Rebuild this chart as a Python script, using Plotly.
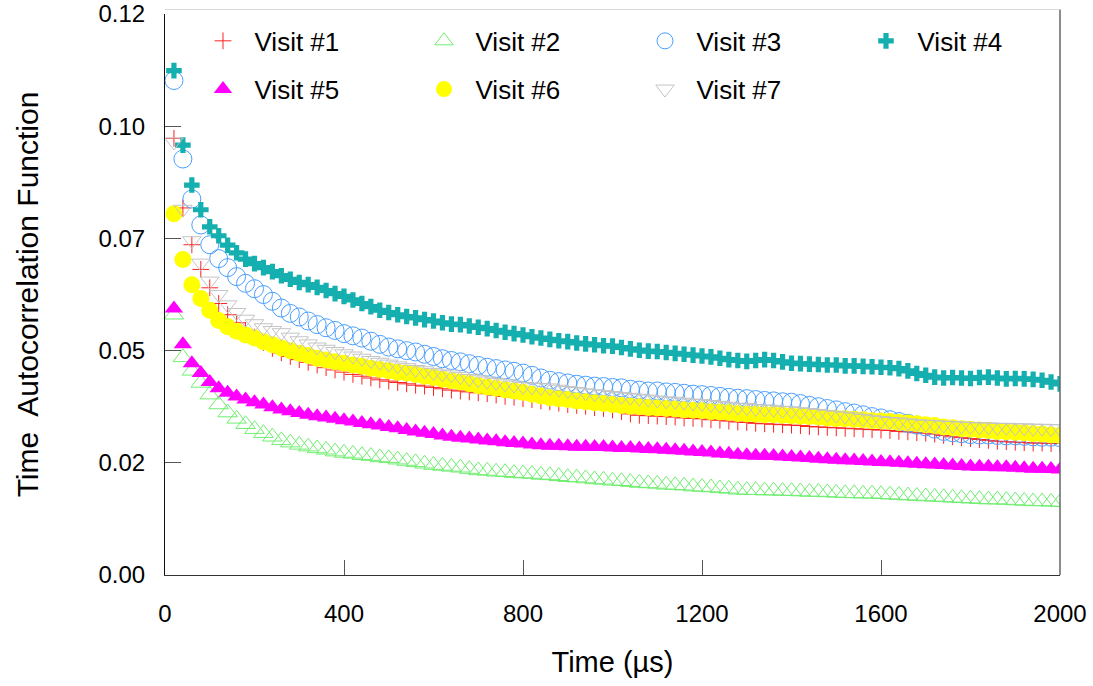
import plotly.graph_objects as go

# Time axis (µs): one sample every 20 µs
time_us = list(range(20, 2001, 20))

visit1 = [0.0973, 0.0818, 0.0736, 0.0681, 0.0640, 0.0605, 0.0580, 0.0562, 0.0545, 0.0530,
          0.0518, 0.0505, 0.0495, 0.0487, 0.0480, 0.0474, 0.0468, 0.0462, 0.0457, 0.0452,
          0.0447, 0.0443, 0.0439, 0.0435, 0.0432, 0.0429, 0.0426, 0.0423, 0.0421, 0.0418,
          0.0415, 0.0412, 0.0410, 0.0408, 0.0406, 0.0404, 0.0401, 0.0398, 0.0396, 0.0393,
          0.0391, 0.0388, 0.0386, 0.0383, 0.0380, 0.0378, 0.0376, 0.0373, 0.0371, 0.0368,
          0.0364, 0.0359, 0.0356, 0.0355, 0.0354, 0.0353, 0.0352, 0.0350, 0.0349, 0.0348,
          0.0346, 0.0345, 0.0343, 0.0341, 0.0340, 0.0338, 0.0337, 0.0336, 0.0335, 0.0334,
          0.0333, 0.0331, 0.0330, 0.0329, 0.0328, 0.0327, 0.0326, 0.0325, 0.0324, 0.0323,
          0.0322, 0.0320, 0.0319, 0.0317, 0.0316, 0.0314, 0.0311, 0.0308, 0.0306, 0.0304,
          0.0302, 0.0300, 0.0298, 0.0297, 0.0296, 0.0295, 0.0294, 0.0294, 0.0293, 0.0293]

visit2 = [0.0580, 0.0485, 0.0455, 0.0428, 0.0402, 0.0380, 0.0362, 0.0348, 0.0336, 0.0325,
          0.0316, 0.0308, 0.0300, 0.0295, 0.0290, 0.0286, 0.0282, 0.0279, 0.0275, 0.0272,
          0.0270, 0.0267, 0.0265, 0.0262, 0.0260, 0.0257, 0.0254, 0.0251, 0.0248, 0.0245,
          0.0243, 0.0241, 0.0239, 0.0236, 0.0233, 0.0232, 0.0230, 0.0229, 0.0227, 0.0226,
          0.0225, 0.0223, 0.0222, 0.0220, 0.0218, 0.0217, 0.0215, 0.0213, 0.0212, 0.0210,
          0.0209, 0.0207, 0.0205, 0.0204, 0.0203, 0.0201, 0.0200, 0.0199, 0.0197, 0.0196,
          0.0195, 0.0193, 0.0192, 0.0190, 0.0189, 0.0189, 0.0188, 0.0188, 0.0187, 0.0187,
          0.0186, 0.0185, 0.0185, 0.0184, 0.0183, 0.0182, 0.0182, 0.0181, 0.0181, 0.0180,
          0.0179, 0.0178, 0.0177, 0.0176, 0.0175, 0.0174, 0.0173, 0.0172, 0.0171, 0.0170,
          0.0169, 0.0168, 0.0168, 0.0167, 0.0166, 0.0165, 0.0164, 0.0164, 0.0163, 0.0162]

visit3 = [0.1102, 0.0927, 0.0838, 0.0780, 0.0736, 0.0705, 0.0685, 0.0665, 0.0650, 0.0638,
          0.0625, 0.0610, 0.0595, 0.0583, 0.0575, 0.0566, 0.0558, 0.0551, 0.0545, 0.0538,
          0.0533, 0.0528, 0.0521, 0.0514, 0.0508, 0.0504, 0.0500, 0.0497, 0.0492, 0.0487,
          0.0482, 0.0478, 0.0475, 0.0471, 0.0467, 0.0463, 0.0460, 0.0457, 0.0454, 0.0450,
          0.0445, 0.0439, 0.0434, 0.0431, 0.0428, 0.0425, 0.0423, 0.0421, 0.0420, 0.0418,
          0.0417, 0.0414, 0.0412, 0.0410, 0.0410, 0.0408, 0.0407, 0.0405, 0.0403, 0.0402,
          0.0400, 0.0398, 0.0396, 0.0394, 0.0393, 0.0391, 0.0389, 0.0388, 0.0386, 0.0385,
          0.0382, 0.0378, 0.0375, 0.0371, 0.0368, 0.0364, 0.0361, 0.0357, 0.0353, 0.0350,
          0.0346, 0.0342, 0.0338, 0.0334, 0.0330, 0.0325, 0.0320, 0.0317, 0.0315, 0.0313,
          0.0312, 0.0312, 0.0311, 0.0310, 0.0310, 0.0309, 0.0308, 0.0307, 0.0307, 0.0306]

visit4 = [0.1124, 0.0958, 0.0869, 0.0814, 0.0776, 0.0756, 0.0735, 0.0718, 0.0704, 0.0694,
          0.0685, 0.0676, 0.0667, 0.0659, 0.0652, 0.0647, 0.0641, 0.0634, 0.0627, 0.0621,
          0.0613, 0.0605, 0.0598, 0.0590, 0.0585, 0.0580, 0.0576, 0.0573, 0.0569, 0.0566,
          0.0562, 0.0559, 0.0558, 0.0555, 0.0552, 0.0549, 0.0545, 0.0541, 0.0538, 0.0535,
          0.0531, 0.0528, 0.0525, 0.0522, 0.0520, 0.0517, 0.0515, 0.0513, 0.0511, 0.0510,
          0.0507, 0.0504, 0.0501, 0.0499, 0.0498, 0.0496, 0.0494, 0.0492, 0.0490, 0.0488,
          0.0486, 0.0483, 0.0480, 0.0478, 0.0476, 0.0478, 0.0480, 0.0478, 0.0475, 0.0472,
          0.0471, 0.0470, 0.0469, 0.0468, 0.0468, 0.0466, 0.0466, 0.0465, 0.0464, 0.0463,
          0.0462, 0.0460, 0.0455, 0.0449, 0.0445, 0.0441, 0.0439, 0.0440, 0.0439, 0.0438,
          0.0440, 0.0441, 0.0439, 0.0437, 0.0438, 0.0437, 0.0436, 0.0434, 0.0430, 0.0426]

visit5 = [0.0594, 0.0514, 0.0472, 0.0450, 0.0430, 0.0416, 0.0406, 0.0398, 0.0391, 0.0385,
          0.0380, 0.0374, 0.0369, 0.0365, 0.0361, 0.0357, 0.0354, 0.0351, 0.0348, 0.0345,
          0.0342, 0.0339, 0.0336, 0.0333, 0.0330, 0.0327, 0.0323, 0.0320, 0.0317, 0.0314,
          0.0311, 0.0308, 0.0306, 0.0304, 0.0302, 0.0300, 0.0298, 0.0296, 0.0294, 0.0293,
          0.0291, 0.0289, 0.0288, 0.0288, 0.0287, 0.0286, 0.0286, 0.0285, 0.0285, 0.0284,
          0.0283, 0.0283, 0.0282, 0.0281, 0.0280, 0.0279, 0.0278, 0.0277, 0.0275, 0.0274,
          0.0273, 0.0271, 0.0270, 0.0268, 0.0267, 0.0266, 0.0266, 0.0265, 0.0264, 0.0263,
          0.0262, 0.0261, 0.0259, 0.0258, 0.0257, 0.0256, 0.0255, 0.0254, 0.0253, 0.0252,
          0.0251, 0.0250, 0.0249, 0.0248, 0.0247, 0.0246, 0.0245, 0.0244, 0.0243, 0.0242,
          0.0241, 0.0241, 0.0240, 0.0240, 0.0239, 0.0238, 0.0237, 0.0237, 0.0236, 0.0235]

visit6 = [0.0805, 0.0703, 0.0647, 0.0616, 0.0590, 0.0567, 0.0553, 0.0543, 0.0535, 0.0528,
          0.0520, 0.0513, 0.0506, 0.0500, 0.0494, 0.0489, 0.0483, 0.0479, 0.0475, 0.0472,
          0.0468, 0.0465, 0.0461, 0.0458, 0.0455, 0.0452, 0.0450, 0.0447, 0.0443, 0.0440,
          0.0436, 0.0433, 0.0430, 0.0426, 0.0422, 0.0419, 0.0416, 0.0413, 0.0410, 0.0407,
          0.0403, 0.0399, 0.0395, 0.0393, 0.0391, 0.0388, 0.0386, 0.0384, 0.0382, 0.0380,
          0.0378, 0.0376, 0.0375, 0.0373, 0.0372, 0.0371, 0.0370, 0.0368, 0.0367, 0.0366,
          0.0364, 0.0363, 0.0362, 0.0360, 0.0359, 0.0358, 0.0357, 0.0357, 0.0356, 0.0355,
          0.0354, 0.0353, 0.0352, 0.0350, 0.0349, 0.0348, 0.0347, 0.0346, 0.0344, 0.0343,
          0.0342, 0.0340, 0.0339, 0.0337, 0.0335, 0.0333, 0.0330, 0.0328, 0.0326, 0.0325,
          0.0323, 0.0322, 0.0320, 0.0319, 0.0318, 0.0317, 0.0315, 0.0314, 0.0312, 0.0311]

visit7 = [0.0965, 0.0815, 0.0745, 0.0695, 0.0655, 0.0625, 0.0602, 0.0585, 0.0570, 0.0560,
          0.0551, 0.0545, 0.0540, 0.0530, 0.0522, 0.0515, 0.0508, 0.0503, 0.0498, 0.0493,
          0.0488, 0.0483, 0.0478, 0.0474, 0.0470, 0.0466, 0.0462, 0.0458, 0.0455, 0.0451,
          0.0448, 0.0446, 0.0442, 0.0438, 0.0435, 0.0432, 0.0429, 0.0426, 0.0423, 0.0420,
          0.0419, 0.0418, 0.0417, 0.0414, 0.0411, 0.0409, 0.0406, 0.0404, 0.0402, 0.0400,
          0.0398, 0.0396, 0.0394, 0.0392, 0.0390, 0.0388, 0.0387, 0.0385, 0.0383, 0.0382,
          0.0380, 0.0378, 0.0376, 0.0374, 0.0373, 0.0371, 0.0370, 0.0369, 0.0367, 0.0366,
          0.0364, 0.0362, 0.0360, 0.0358, 0.0356, 0.0354, 0.0352, 0.0349, 0.0346, 0.0344,
          0.0342, 0.0341, 0.0339, 0.0337, 0.0336, 0.0335, 0.0334, 0.0333, 0.0332, 0.0331,
          0.0330, 0.0330, 0.0329, 0.0329, 0.0328, 0.0328, 0.0327, 0.0327, 0.0326, 0.0326]

x_ticks = [0, 400, 800, 1200, 1600, 2000]
x_tick_labels = ["0", "400", "800", "1200", "1600", "2000"]
y_ticks = [0, 0.025, 0.05, 0.075, 0.1, 0.125]
y_tick_labels = ["0.00", "0.02", "0.05", "0.07", "0.10", "0.12"]

names = ["Visit #1", "Visit #2", "Visit #3", "Visit #4", "Visit #5", "Visit #6", "Visit #7"]
values = [visit1, visit2, visit3, visit4, visit5, visit6, visit7]

styles = [
    dict(symbol="cross-thin", size=12, color="#ff2020", line=dict(width=1, color="#ff2020")),
    dict(symbol="triangle-up-open", size=17, color="#70ee70", line=dict(width=1, color="#70ee70")),
    dict(symbol="circle-open", size=18, color="#4aa0ff", line=dict(width=1, color="#4aa0ff")),
    dict(symbol="cross", size=13, color="#16afaf", line=dict(width=0)),
    dict(symbol="triangle-up", size=16, color="#ff00ff", line=dict(width=0)),
    dict(symbol="circle", size=17, color="#ffff00", line=dict(width=0)),
    dict(symbol="triangle-down-open", size=16, color="#c4c4c4", line=dict(width=1, color="#c4c4c4")),
]
legend_ids = ["legend", "legend", "legend", "legend", "legend2", "legend2", "legend2"]

fig = go.Figure()
for name, vals, st, lg in zip(names, values, styles, legend_ids):
    fig.add_trace(go.Scatter(x=time_us, y=vals, mode="markers", name=name,
                             marker=st, legend=lg))

font_family = "Liberation Sans, Arial, Helvetica, sans-serif"
legend_common = dict(orientation="h", x=0.0296, xanchor="left", yanchor="middle",
                     bgcolor="rgba(0,0,0,0)", font=dict(family=font_family, size=26, color="#000"),
                     entrywidth=153, entrywidthmode="pixels", itemwidth=53,
                     traceorder="normal")

fig.update_layout(
    width=1093, height=686,
    margin=dict(l=165, r=33, t=14, b=111),
    paper_bgcolor="white", plot_bgcolor="white",
    font=dict(family=font_family, color="#000"),
    xaxis=dict(range=[0, 2000], tickvals=x_ticks, ticktext=x_tick_labels,
               ticks="inside", ticklen=15, tickcolor="#555", tickwidth=1,
               showgrid=False, zeroline=False, showline=True, linecolor="#333", linewidth=1,
               tickfont=dict(size=24), ticklabelstandoff=17, automargin=False,
               ticklabeloverflow="allow",
               title=dict(text="Time (µs)", font=dict(size=29), standoff=25)),
    yaxis=dict(range=[0, 0.12502], tickvals=y_ticks, ticktext=y_tick_labels,
               ticks="inside", ticklen=16, tickcolor="#555", tickwidth=1,
               showgrid=False, zeroline=False, showline=True, linecolor="#111", linewidth=1,
               tickfont=dict(size=24), ticklabelstandoff=14, automargin=False,
               ticklabeloverflow="allow",
               title=dict(text="Time\u00a0 Autocorrelation Function", font=dict(size=30), standoff=50)),
    legend=dict(y=0.952, **legend_common),
    legend2=dict(y=0.866, **legend_common),
    shapes=[
        dict(type="line", xref="paper", yref="paper", x0=1, x1=1, y0=0, y1=1.008,
             line=dict(color="#666", width=1.5)),
        dict(type="line", xref="paper", yref="paper", x0=0, x1=1, y0=1.008, y1=1.008,
             line=dict(color="#d8d8d8", width=1)),
    ],
)

fig.write_html("out.html", config={"displayModeBar": False},
               post_script="document.body.style.margin='0';")
